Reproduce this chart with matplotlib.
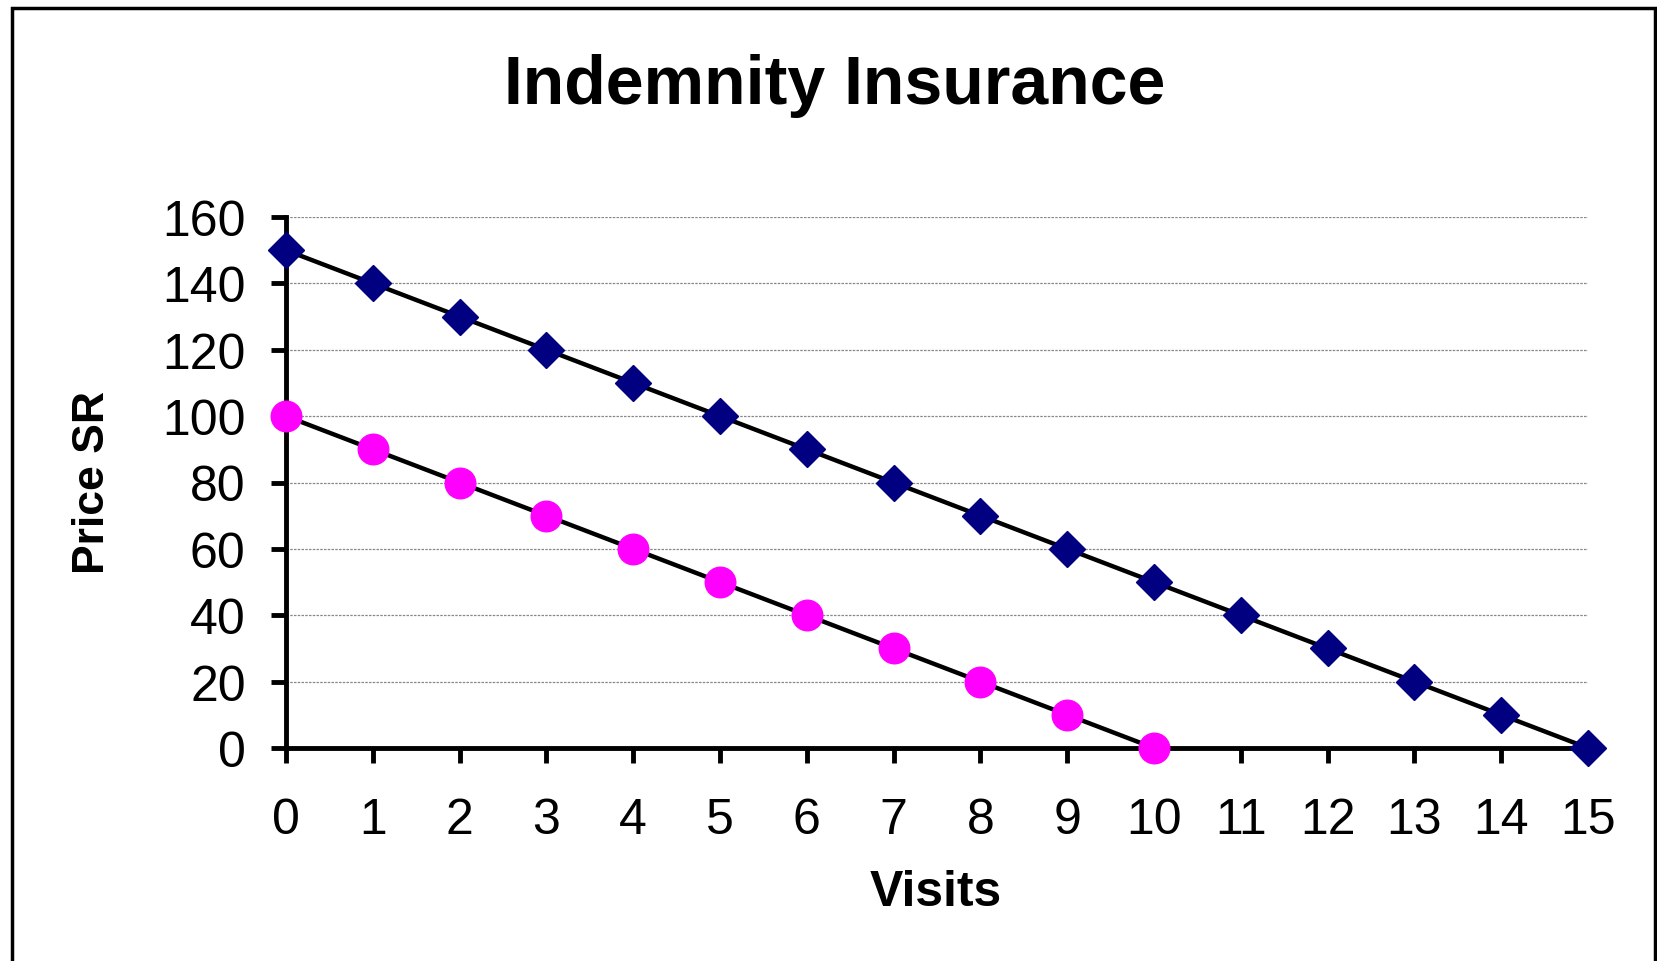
import matplotlib.pyplot as plt
from matplotlib.patches import Rectangle

plt.rcParams['font.family'] = ['Liberation Sans', 'DejaVu Sans']

visits = list(range(16))
price_upper = [150, 140, 130, 120, 110, 100, 90, 80, 70, 60, 50, 40, 30, 20, 10, 0]
visits_lower = list(range(11))
price_lower = [100, 90, 80, 70, 60, 50, 40, 30, 20, 10, 0]
y_ticks = [0, 20, 40, 60, 80, 100, 120, 140, 160]

fig = plt.figure(figsize=(16.58, 9.62), dpi=100)
ax = fig.add_axes([286 / 1658, 1 - 749 / 962, (1588 - 286) / 1658, (749 - 218) / 962])

ax.plot(visits, price_upper, color='black', lw=3.2, marker='D', markersize=18,
        markerfacecolor='#000080', markeredgecolor='#000080', clip_on=False, zorder=5)
ax.plot(visits_lower, price_lower, color='black', lw=3.2, marker='o', markersize=22,
        markerfacecolor='#FF00FF', markeredgecolor='#FF00FF', clip_on=False, zorder=5)

ax.set_xlim(0, 15)
ax.set_ylim(0, 160)
ax.set_xticks(visits)
ax.set_yticks(y_ticks)
ax.yaxis.grid(True, color='#888888', lw=0.9, linestyle=(0, (2, 1)))
ax.set_axisbelow(True)

for s in ['top', 'right']:
    ax.spines[s].set_visible(False)
for s in ['left', 'bottom']:
    ax.spines[s].set_linewidth(3.5)
ax.tick_params(axis='both', direction='out', length=11, width=3.5, labelsize=36)
ax.tick_params(axis='x', pad=24)
ax.tick_params(axis='y', pad=18)

fig.text(835 / 1658, 1 - 86 / 962, 'Indemnity Insurance', fontsize=49, fontweight='bold',
         ha='center', va='center')
fig.text(936 / 1658, 1 - 893 / 962, 'Visits', fontsize=36, fontweight='bold',
         ha='center', va='center')
fig.text(93 / 1658, 1 - 483 / 962, 'Price SR', fontsize=32, fontweight='bold',
         ha='center', va='center', rotation=90)

fig.patches.append(Rectangle((12 / 1658, -0.05), (1655 - 12) / 1658, 1.05 - 9 / 962,
                             transform=fig.transFigure, fill=False, edgecolor='black', lw=2.5))

fig.savefig('out.png', dpi=100)
